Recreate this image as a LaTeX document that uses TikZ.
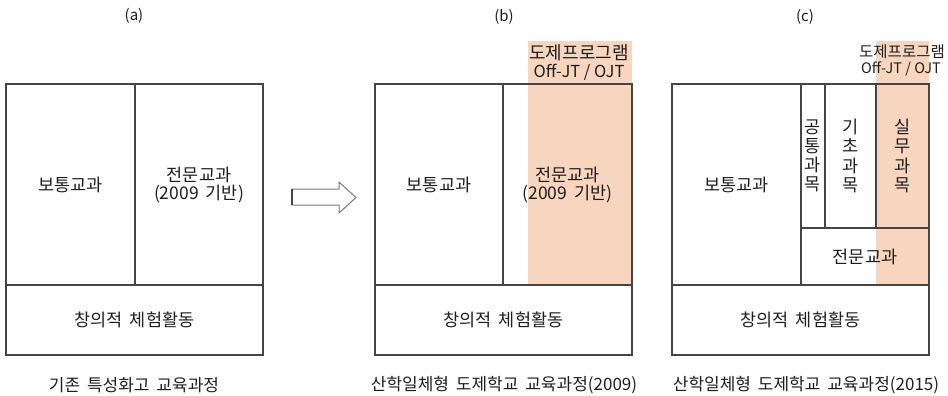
\documentclass[tikz,border=0pt]{standalone}
\usepackage{fontspec}
\setmainfont{Noto Sans CJK KR}[WordSpace=1.8]
\newfontfamily\plainfont{Noto Sans CJK KR}
\definecolor{peach}{HTML}{F8D5BE}
\definecolor{linec}{HTML}{454545}
\definecolor{txt}{HTML}{1E1E1E}
\definecolor{arrowc}{HTML}{7A7A7A}
\tikzset{
  cellbox/.style={draw=linec, line width=1.2pt, anchor=north west, inner sep=0pt, outer sep=0pt, text=txt, align=center, font=\fontsize{17.5}{20}\selectfont},
  wh/.style 2 args={minimum width=#1pt, minimum height=#2pt},
  band/.style={fill=peach, draw=none},
  lbl/.style={text=txt, inner sep=0pt, align=center},
  vtext/.style={text=txt, inner sep=0pt, align=center, font=\fontsize{17.5}{19.2}\selectfont},
}
\begin{document}
\begin{tikzpicture}[x=1pt, y=-1pt]
\useasboundingbox (0,0) rectangle (948,396);

% titles
\node[lbl, font=\fontsize{15}{16}\selectfont] (ta) at (134,16) {(a)};
\node[lbl, font=\fontsize{15}{16}\selectfont] (tb) at (504,17) {(b)};
\node[lbl, font=\fontsize{15}{16}\selectfont] (tc) at (805,17) {(c)};

% ---------- panel (a)
\node[cellbox, wh={129}{201}] (a1) at (6,84) {보통교과};
\node[cellbox, wh={128}{201}] (a2) at (135,84) {전문교과\\[-2pt](2009 기반)};
\node[cellbox, wh={257}{70}] (a3) at (6,285) {창의적 체험활동};

% ---------- arrow
\draw[arrowc, line width=1pt, fill=white, line join=miter]
  (292,189) -- (339,189) -- (339,182) -- (356,197.5) -- (339,213) -- (339,205) -- (292,205) -- cycle;
\draw[linec, line width=1.2pt] (292,189) -- (292,205);

% ---------- panel (b)
\fill[band] (528,41) rectangle (632,285);
\node[lbl, font=\fontsize{18}{19}\selectfont] (bl1) at (579,53) {도제프로그램};
\node[lbl, font=\fontsize{16.5}{18}\selectfont\plainfont] (bl2) at (579,72) {Off-JT / OJT};
\node[cellbox, wh={128}{201}] (b1) at (375,84) {보통교과};
\node[cellbox, wh={129}{201}] (b2) at (503,84) {전문교과\\[-2pt](2009 기반)};
\node[cellbox, wh={257}{70}] (b3) at (375,285) {창의적 체험활동};

% ---------- panel (c)
\fill[band] (876,41) rectangle (929,285);
\node[lbl, font=\fontsize{15.5}{16}\selectfont] (cl1) at (902,52) {도제프로그램};
\node[lbl, font=\fontsize{14.5}{15}\selectfont\plainfont] (cl2) at (901,69) {Off-JT / OJT};
\node[cellbox, wh={129}{201}] (c1) at (672,84) {보통교과};
\node[cellbox, wh={24}{144}] (c2) at (801,84) {};
\node[cellbox, wh={51}{144}] (c3) at (825,84) {};
\node[cellbox, wh={53}{144}] (c4) at (876,84) {};
\node[cellbox, wh={128}{57}] (c5) at (801,228) {전문교과};
\node[cellbox, wh={257}{70}] (c6) at (672,285) {창의적 체험활동};
\node[vtext] (c2t) at (c2.center) {공\\통\\과\\목};
\node[vtext] (c3t) at (c3.center) {기\\초\\과\\목};
\node[vtext] (c4t) at (c4.center) {실\\무\\과\\목};

% ---------- captions
\node[lbl, font=\fontsize{17}{18}\selectfont] (capa) at (134,385) {기존 특성화고 교육과정};
\node[lbl, font=\fontsize{17}{18}\selectfont] (capb) at (504,385) {산학일체형 도제학교 교육과정(2009)};
\node[lbl, font=\fontsize{17}{18}\selectfont] (capc) at (806,385) {산학일체형 도제학교 교육과정(2015)};
\end{tikzpicture}
\end{document}
